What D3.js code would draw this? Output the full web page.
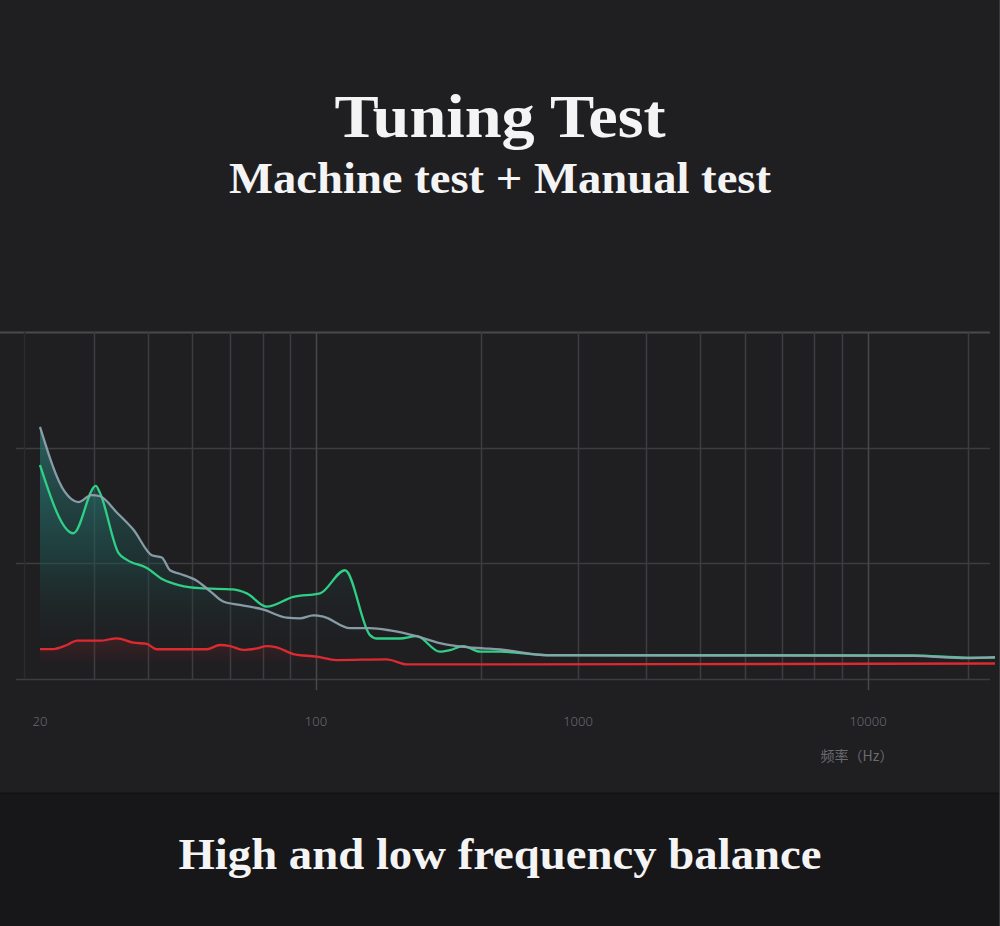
<!DOCTYPE html>
<html>
<head>
<meta charset="utf-8">
<script src="https://cdn.jsdelivr.net/npm/d3@7"></script>
<style>
  html, body { margin: 0; padding: 0; background: #1f1e21; }
  svg { display: block; }
</style>
</head>
<body>
<svg id="chart" width="1000" height="926"></svg>
<script>
// ---------------- Data ----------------
const titleText = "Tuning Test";
const subtitleText = "Machine test + Manual test";
const footerText = "High and low frequency balance";
const axisTitle = "频率（Hz）";

// x tick labels (Hz)
const xTickLabels = [20, 100, 1000, 10000];
// vertical grid lines (Hz)
const xGridFreqs = [18.2, 27.4, 37.5, 48.5, 60.6, 73.4, 85.9, 100, 426, 1000, 1716, 2635, 3766, 5050, 6513, 8130, 10000, 20580];
// major grid lines that carry a small tick below the axis
const xMajorTicks = [100, 10000];
// horizontal grid levels (dB, relative)
const yGridLevels = [0, 10, 20, 30];

// grey curve
const greyFreq = [20, 23.1, 25, 27, 28.4, 31.3, 34.5, 38.4, 40.7, 42.7, 45.2, 49.9, 53.9, 58.2, 64.2, 73.6, 84.3, 91.1, 98.4, 106.6, 134.8, 160.7, 191.6, 242, 297, 376, 435, 504, 760, 13840, 20430, 25000];
const greyVal  = [21.8, 16.2, 15.3, 15.9, 15.8, 14.4, 12.9, 10.7, 10.5, 9.4, 9.1, 8.5, 7.6, 6.7, 6.4, 6.0, 5.3, 5.25, 5.5, 5.4, 4.4, 4.4, 4.2, 3.7, 3.1, 2.75, 2.65, 2.55, 2.05, 2.0, 1.8, 1.9];

// green curve
const greenFreq = [20, 24.3, 27.7, 28.4, 31.6, 33.2, 37.3, 41.0, 45.2, 50.8, 61.7, 66.8, 75.0, 87.6, 103.6, 129, 160.7, 170.4, 209, 242, 297, 325, 365, 423, 504, 760, 13840, 20430, 25000];
const greenVal  = [18.5, 12.6, 16.7, 16.05, 10.9, 10.3, 9.6, 8.6, 8.1, 7.85, 7.75, 7.4, 6.25, 7.1, 7.4, 9.4, 3.8, 3.5, 3.5, 3.7, 2.36, 2.5, 2.85, 2.36, 2.36, 2.07, 2.05, 1.85, 1.85];

// red curve
const redFreq = [20, 21.6, 23.4, 24.8, 28.4, 31.3, 34.5, 37.3, 39.5, 52.9, 57.1, 60.6, 65.4, 70.8, 75.0, 79.5, 87.6, 100.6, 120, 186, 222, 504, 25000];
const redVal  = [2.59, 2.59, 2.94, 3.31, 3.31, 3.52, 3.14, 3.03, 2.57, 2.57, 2.94, 2.85, 2.51, 2.65, 2.85, 2.74, 2.16, 1.93, 1.64, 1.70, 1.27, 1.27, 1.34];

// ---------------- Drawing ----------------
const svg = d3.select("#chart");
const W = 1000, H = 926;

// backgrounds
svg.append("rect").attr("x", 0).attr("y", 0).attr("width", W).attr("height", H).attr("fill", "#1f1e21");
svg.append("rect").attr("x", 0).attr("y", 793).attr("width", W).attr("height", H - 793).attr("fill", "#171619");
svg.append("line").attr("x1", 0).attr("x2", W).attr("y1", 793.5).attr("y2", 793.5).attr("stroke", "#141316").attr("stroke-width", 2);
svg.append("line").attr("x1", 999.5).attr("x2", 999.5).attr("y1", 0).attr("y2", H).attr("stroke", "#3a393d").attr("stroke-width", 1);

// scales (stylised piecewise log axis as in the picture)
const x = d3.scaleLog().domain([20, 100, 1000, 10000, 25000]).range([40, 316, 578, 868, 995]);
const y = d3.scaleLinear().domain([0, 30]).range([679, 332]);

const defs = svg.append("defs");
const gTeal = defs.append("linearGradient").attr("id", "tealGrad")
  .attr("gradientUnits", "userSpaceOnUse").attr("x1", 0).attr("x2", 0).attr("y1", y(22)).attr("y2", y(1.5));
gTeal.append("stop").attr("offset", 0).attr("stop-color", "#30908a").attr("stop-opacity", 0.8);
gTeal.append("stop").attr("offset", 0.55).attr("stop-color", "#1f5a56").attr("stop-opacity", 0.45);
gTeal.append("stop").attr("offset", 1).attr("stop-color", "#1f1e21").attr("stop-opacity", 0);

const gRed = defs.append("linearGradient").attr("id", "redGrad")
  .attr("gradientUnits", "userSpaceOnUse").attr("x1", 0).attr("x2", 0).attr("y1", y(3.5)).attr("y2", y(1.2));
gRed.append("stop").attr("offset", 0).attr("stop-color", "#c0242b").attr("stop-opacity", 0.18);
gRed.append("stop").attr("offset", 1).attr("stop-color", "#c0242b").attr("stop-opacity", 0);

// grid
const grid = svg.append("g");
grid.selectAll("line.h").data(yGridLevels).join("line")
  .attr("class", "h")
  .attr("x1", d => d === 30 ? 0 : 16).attr("x2", 990)
  .attr("y1", d => Math.round(y(d)) + 0.5).attr("y2", d => Math.round(y(d)) + 0.5)
  .attr("stroke", d => d === 30 ? "#4a494d" : "#3d3c40").attr("stroke-width", d => d === 30 ? 2 : 1.5);

grid.selectAll("line.v").data(xGridFreqs).join("line")
  .attr("class", "v")
  .attr("x1", d => Math.round(x(d)) + 0.5)
  .attr("x2", d => Math.round(x(d)) + 0.5)
  .attr("y1", y(30)).attr("y2", y(0))
  .attr("stroke", d => d < 20 ? "#2c2b2f" : (xMajorTicks.includes(d) ? "#48474b" : "#3d3c40"))
  .attr("stroke-width", 1.5);

grid.selectAll("line.t").data(xMajorTicks).join("line")
  .attr("class", "t")
  .attr("x1", d => Math.round(x(d)) + 0.5).attr("x2", d => Math.round(x(d)) + 0.5)
  .attr("y1", y(0)).attr("y2", y(0) + 11)
  .attr("stroke", "#48474b").attr("stroke-width", 1.5);

// series
const greyData = greyFreq.map((f, i) => [f, greyVal[i]]);
const greenData = greenFreq.map((f, i) => [f, greenVal[i]]);
const redData = redFreq.map((f, i) => [f, redVal[i]]);

const curve = d3.curveMonotoneX;
const area = d3.area().x(d => x(d[0])).y0(y(0)).y1(d => y(d[1])).curve(curve);
const line = d3.line().x(d => x(d[0])).y(d => y(d[1])).curve(curve);

svg.append("path").datum(greyData).attr("d", area).attr("fill", "url(#tealGrad)").attr("opacity", 0.75);
svg.append("path").datum(greenData).attr("d", area).attr("fill", "url(#tealGrad)").attr("opacity", 0.55);
svg.append("path").datum(redData).attr("d", area).attr("fill", "url(#redGrad)");

svg.append("path").datum(redData).attr("d", line)
  .attr("fill", "none").attr("stroke", "#dc2a30").attr("stroke-width", 2.3);
svg.append("path").datum(greenData).attr("d", line)
  .attr("fill", "none").attr("stroke", "#2fcf85").attr("stroke-width", 2.3);
svg.append("path").datum(greyData).attr("d", line)
  .attr("fill", "none").attr("stroke", "#8da2ad").attr("stroke-width", 2.3).attr("opacity", 0.95);

// axis labels
svg.append("g").selectAll("text").data(xTickLabels).join("text")
  .attr("x", d => x(d)).attr("y", 726)
  .attr("text-anchor", "middle")
  .attr("font-family", "'Noto Sans', 'DejaVu Sans', sans-serif")
  .attr("font-size", 13).attr("font-weight", 300)
  .attr("fill", "#6b6a6f")
  .text(d => d);

svg.append("text").attr("x", 857).attr("y", 761).attr("text-anchor", "middle")
  .attr("font-family", "'Noto Sans CJK SC', 'Noto Sans', sans-serif")
  .attr("font-size", 14).attr("fill", "#6b6a6f").text(axisTitle);

// titles
const serif = "'Liberation Serif', 'Times New Roman', serif";
svg.append("text").attr("x", 500).attr("y", 137).attr("text-anchor", "middle")
  .attr("font-family", serif).attr("font-weight", "bold").attr("font-size", 62)
  .attr("fill", "#f4f4f4").attr("textLength", 331).attr("lengthAdjust", "spacingAndGlyphs")
  .text(titleText);
svg.append("text").attr("x", 500).attr("y", 193).attr("text-anchor", "middle")
  .attr("font-family", serif).attr("font-weight", "bold").attr("font-size", 45)
  .attr("fill", "#f4f4f4").attr("textLength", 542).attr("lengthAdjust", "spacingAndGlyphs")
  .text(subtitleText);
svg.append("text").attr("x", 500).attr("y", 869).attr("text-anchor", "middle")
  .attr("font-family", serif).attr("font-weight", "bold").attr("font-size", 45)
  .attr("fill", "#f4f4f4").attr("textLength", 643).attr("lengthAdjust", "spacingAndGlyphs")
  .text(footerText);
</script>
</body>
</html>
